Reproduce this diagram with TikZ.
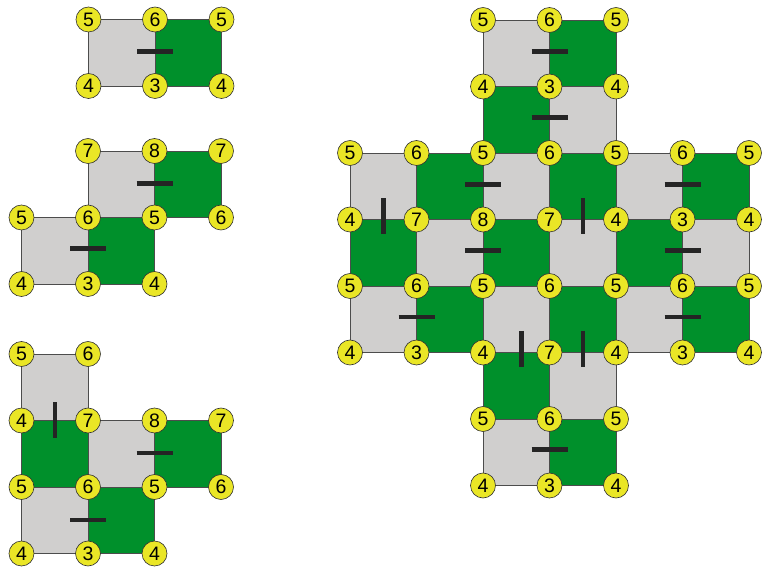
\documentclass[tikz,border=0pt]{standalone}
\usepackage{fontspec}
\setmainfont{Liberation Sans}
\definecolor{cellgray}{HTML}{D0CFCE}
\definecolor{cellgreen}{HTML}{00902B}
\definecolor{dotyellow}{HTML}{EAE626}
\definecolor{barblack}{HTML}{252525}

\begin{document}
\begin{tikzpicture}[x=1pt,y=-1pt,
    gr/.style={fill=cellgray,draw=black!70,line width=0.7pt},
    gn/.style={fill=cellgreen,draw=black!70,line width=0.7pt},
    bar/.style={barblack,line width=4.5pt},
    num/.style={circle,draw=black!80,fill=dotyellow,line width=0.6pt,
        minimum size=25pt,inner sep=0pt,font=\fontsize{19.5}{19.5}\selectfont}]

    \useasboundingbox (0,0) rectangle (769,569);

    % Gambar kelompok pertama (dua petak)
    \draw[gr] (88.5,19.5) rectangle (155,86);
    \draw[gn] (155,19.5) rectangle (221.5,86);
    \draw[bar] (137,51.5)--(173,51.5);
    \node[num] (a1) at (88.5,19.5) {5};
    \node[num] (a2) at (155,19.5) {6};
    \node[num] (a3) at (221.5,19.5) {5};
    \node[num] (a4) at (88.5,86) {4};
    \node[num] (a5) at (155,86) {3};
    \node[num] (a6) at (221.5,86) {4};

    % Gambar kelompok kedua (tangga)
    \draw[gr] (88,151) rectangle (154.5,217.5);
    \draw[gn] (154.5,151) rectangle (221,217.5);
    \draw[gr] (21.5,217.5) rectangle (88,284);
    \draw[gn] (88,217.5) rectangle (154.5,284);
    \draw[bar] (136.5,183.5)--(172.5,183.5);
    \draw[bar] (70,248.5)--(106,248.5);
    \node[num] (b1) at (88,151) {7};
    \node[num] (b2) at (154.5,151) {8};
    \node[num] (b3) at (221,151) {7};
    \node[num] (b4) at (21.5,217.5) {5};
    \node[num] (b5) at (88,217.5) {6};
    \node[num] (b6) at (154.5,217.5) {5};
    \node[num] (b7) at (221,217.5) {6};
    \node[num] (b8) at (21.5,284) {4};
    \node[num] (b9) at (88,284) {3};
    \node[num] (b10) at (154.5,284) {4};

    % Gambar kelompok ketiga
    \draw[gr] (21.5,354) rectangle (88,420.5);
    \draw[gn] (21.5,420.5) rectangle (88,487);
    \draw[gr] (88,420.5) rectangle (154.5,487);
    \draw[gn] (154.5,420.5) rectangle (221,487);
    \draw[gr] (21.5,487) rectangle (88,553.5);
    \draw[gn] (88,487) rectangle (154.5,553.5);
    \draw[bar] (55,402.5)--(55,438.5);
    \draw[bar] (136.5,453)--(172.5,453);
    \draw[bar] (70,520)--(106,520);
    \node[num] (c1) at (21.5,354) {5};
    \node[num] (c2) at (88,354) {6};
    \node[num] (c3) at (21.5,420.5) {4};
    \node[num] (c4) at (88,420.5) {7};
    \node[num] (c5) at (154.5,420.5) {8};
    \node[num] (c6) at (221,420.5) {7};
    \node[num] (c7) at (21.5,487) {5};
    \node[num] (c8) at (88,487) {6};
    \node[num] (c9) at (154.5,487) {5};
    \node[num] (c10) at (221,487) {6};
    \node[num] (c11) at (21.5,553.5) {4};
    \node[num] (c12) at (88,553.5) {3};
    \node[num] (c13) at (154.5,553.5) {4};

    % Gambar jaring besar: petak abu-abu dan hijau
    \foreach \c/\r in {2/0,3/1,0/2,2/2,4/2,1/3,3/3,5/3,0/4,2/4,4/4,3/5,2/6}
        \draw[gr] ({350+66.5*\c},{20+66.5*\r}) rectangle +(66.5,66.5);
    \foreach \c/\r in {3/0,2/1,1/2,3/2,5/2,0/3,2/3,4/3,1/4,3/4,5/4,2/5,3/6}
        \draw[gn] ({350+66.5*\c},{20+66.5*\r}) rectangle +(66.5,66.5);

    % Gambar garis penanda
    \draw[bar] (531.5,51.7)--(567.5,51.7);
    \draw[bar] (531.5,117.7)--(567.5,117.7);
    \draw[bar] (465,184.3)--(501,184.3);
    \draw[bar] (664.5,184.3)--(700.5,184.3);
    \draw[bar] (465,250.7)--(501,250.7);
    \draw[bar] (664.5,250.7)--(700.5,250.7);
    \draw[bar] (398.5,317)--(434.5,317);
    \draw[bar] (664.5,317)--(700.5,317);
    \draw[bar] (531.5,449.5)--(567.5,449.5);
    \draw[bar] (383.25,198.5)--(383.25,234.5);
    \draw[bar] (582.75,198.5)--(582.75,234.5);
    \draw[bar] (521.5,331)--(521.5,367);
    \draw[bar] (582.75,331)--(582.75,367);

    % Gambar lingkaran bernomor di setiap titik sudut
    \foreach \n [count=\i from 2] in {5,6,5}
        \node[num] (m0-\i) at ({350+66.5*\i},20) {\n};
    \foreach \n [count=\i from 2] in {4,3,4}
        \node[num] (m1-\i) at ({350+66.5*\i},86.5) {\n};
    \foreach \n [count=\i from 0] in {5,6,5,6,5,6,5}
        \node[num] (m2-\i) at ({350+66.5*\i},153) {\n};
    \foreach \n [count=\i from 0] in {4,7,8,7,4,3,4}
        \node[num] (m3-\i) at ({350+66.5*\i},219.5) {\n};
    \foreach \n [count=\i from 0] in {5,6,5,6,5,6,5}
        \node[num] (m4-\i) at ({350+66.5*\i},286) {\n};
    \foreach \n [count=\i from 0] in {4,3,4,7,4,3,4}
        \node[num] (m5-\i) at ({350+66.5*\i},352.5) {\n};
    \foreach \n [count=\i from 2] in {5,6,5}
        \node[num] (m6-\i) at ({350+66.5*\i},419) {\n};
    \foreach \n [count=\i from 2] in {4,3,4}
        \node[num] (m7-\i) at ({350+66.5*\i},485.5) {\n};

\end{tikzpicture}
\end{document}
